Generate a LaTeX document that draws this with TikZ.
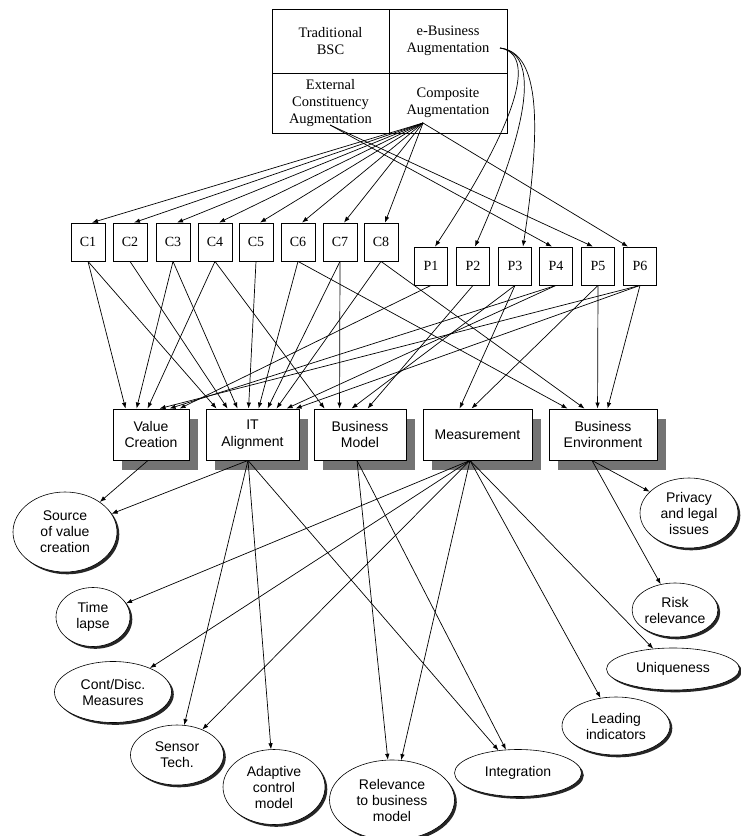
\documentclass[tikz,border=0pt]{standalone}
\usepackage{fontspec}
\setmainfont{Liberation Serif}
\setsansfont{Liberation Sans}
\usetikzlibrary{arrows.meta,shapes.geometric,shadows}

\begin{document}
\begin{tikzpicture}[x=1pt,y=-1pt,
  arr/.style={-{Latex[length=6pt,width=4.5pt]}, line width=0.7pt},
  cell/.style={draw, line width=0.8pt, align=center, inner sep=0pt,
    font=\fontsize{14.5}{17}\selectfont},
  idbox/.style={draw, line width=0.8pt, minimum width=34pt, minimum height=38pt,
    inner sep=0pt, font=\fontsize{14}{16}\selectfont},
  catbox/.style={draw, fill=white, line width=0.9pt, align=center, inner sep=0pt,
    minimum height=51pt, font=\sffamily\fontsize{14}{16.5}\selectfont,
    drop shadow={shadow xshift=9pt, shadow yshift=-10pt, fill=black!55, opacity=1}},
  bubble/.style={ellipse, draw, fill=white, line width=0.6pt, align=center, inner sep=0pt,
    font=\sffamily\fontsize{14}{16}\selectfont,
    drop shadow={shadow xshift=2.3pt, shadow yshift=-2.3pt, fill=black!85, opacity=1}}
]
\useasboundingbox (0,0) rectangle (740,836);

% four-quadrant scorecard frame
\node[cell, minimum width=117pt, minimum height=64pt] (tbsc) at (330.5,41) {Traditional\\BSC};
\node[cell, minimum width=118pt, minimum height=64pt] (ebiz) at (448,41) {e-Business\\Augmentation};
\node[cell, minimum width=117pt, minimum height=60pt] (ext) at (330.5,103) {External\\Constituency\\Augmentation};
\node[cell, minimum width=118pt, minimum height=60pt] (comp) at (448,103) {Composite\\Augmentation};
\coordinate (ebizOut) at (500,48);
\coordinate (compOut) at (423,123);
\coordinate (extOut) at (330,125);

% C and P items
\foreach \n/\x in {1/88,2/130,3/173,4/215,5/256,6/298,7/340,8/381}
  \node[idbox] (C\n) at (\x,242) {C\n};
\foreach \n/\x in {1/431,2/473,3/515,4/556,5/598,6/640}
  \node[idbox, minimum width=33pt] (P\n) at (\x,266) {P\n};

% dimensions
\node[catbox, minimum width=76pt]  (VC) at (151,434.5)   {Value\\Creation};
\node[catbox, minimum width=93pt]  (IT) at (252.5,434.5) {IT\\Alignment};
\node[catbox, minimum width=92pt]  (BM) at (360,434.5)   {Business\\Model};
\node[catbox, minimum width=109pt] (MS) at (477.5,434.5) {Measurement};
\node[catbox, minimum width=108pt] (BE) at (603,434.5)   {Business\\Environment};

% attributes
\node[bubble, minimum width=104pt, minimum height=80pt] (src)    at (65,532)  {Source\\of value\\creation};
\node[bubble, minimum width=74pt,  minimum height=59pt] (time)   at (93,617)  {Time\\lapse};
\node[bubble, minimum width=117pt, minimum height=61pt] (cont)   at (113,692) {Cont/Disc.\\Measures};
\node[bubble, minimum width=93pt,  minimum height=60pt] (sensor) at (177,755) {Sensor\\Tech.};
\node[bubble, minimum width=102pt, minimum height=75pt] (adapt)  at (274,787) {Adaptive\\control\\model};
\node[bubble, minimum width=125pt, minimum height=80pt] (relev)  at (392,800) {Relevance\\to business\\model};
\node[bubble, minimum width=127pt, minimum height=47pt] (integ)  at (518,773) {Integration};
\node[bubble, minimum width=108pt, minimum height=58pt] (lead)   at (616,726) {Leading\\indicators};
\node[bubble, minimum width=133pt, minimum height=42pt] (uniq)   at (673,669) {Uniqueness};
\node[bubble, minimum width=85pt,  minimum height=54pt] (risk)   at (675,610) {Risk\\relevance};
\node[bubble, minimum width=98pt,  minimum height=70pt] (priv)   at (689,513) {Privacy\\and legal\\issues};

% scorecard quadrants to items
\draw[arr] (ebizOut) .. controls (528,52) and (535,95) .. ([xshift=4pt]P1.north);
\draw[arr] (ebizOut) .. controls (532,52) and (540,100) .. ([xshift=2pt]P2.north);
\draw[arr] (ebizOut) .. controls (536,52) and (544,110) .. ([xshift=8pt]P3.north);
\foreach \n in {1,...,8}
  \draw[arr] (compOut) -- ([xshift=4pt]C\n.north);
\draw[arr] (compOut) -- ([xshift=-12pt]P6.north);
\draw[arr] (extOut) -- ([xshift=-4pt]P4.north);
\draw[arr] (extOut) -- ([xshift=-5pt]P5.north);

% items to dimensions
\foreach \s/\t/\d in {C1/VC/13, C3/VC/24, C4/VC/35, P6/VC/47, P4/VC/57, P1/VC/67,
    C1/IT/11, C2/IT/22, C3/IT/32, C5/IT/43, C6/IT/53, C7/IT/62, C8/IT/71, P4/IT/81, P6/IT/90,
    C4/BM/11, C7/BM/26, P3/BM/38, P2/BM/54,
    P3/MS/37, P5/MS/49,
    C6/BE/19, C8/BE/36, P5/BE/49, P6/BE/59}
  \draw[arr] (\s.south) -- ([xshift=\d pt]\t.north west);

% dimensions to attributes
\coordinate (vcB) at ([xshift=-3pt]VC.south);
\coordinate (itB) at ([xshift=-4.5pt]IT.south);
\coordinate (bmB) at ([xshift=-3pt]BM.south);
\coordinate (msB) at ([xshift=-7.5pt]MS.south);
\coordinate (beB) at ([xshift=-11pt]BE.south);
\draw[arr] (vcB) -- (src);
\draw[arr] (itB) -- (src);
\draw[arr] (itB) -- (sensor);
\draw[arr] (itB) -- (adapt);
\draw[arr] (itB) -- (integ);
\draw[arr] (bmB) -- (relev);
\draw[arr] (bmB) -- (integ);
\draw[arr] (msB) -- (time);
\draw[arr] (msB) -- (cont);
\draw[arr] (msB) -- (sensor);
\draw[arr] (msB) -- (relev);
\draw[arr] (msB) -- (lead);
\draw[arr] (msB) -- (uniq);
\draw[arr] (beB) -- (priv);
\draw[arr] (beB) -- (risk);
\end{tikzpicture}
\end{document}
